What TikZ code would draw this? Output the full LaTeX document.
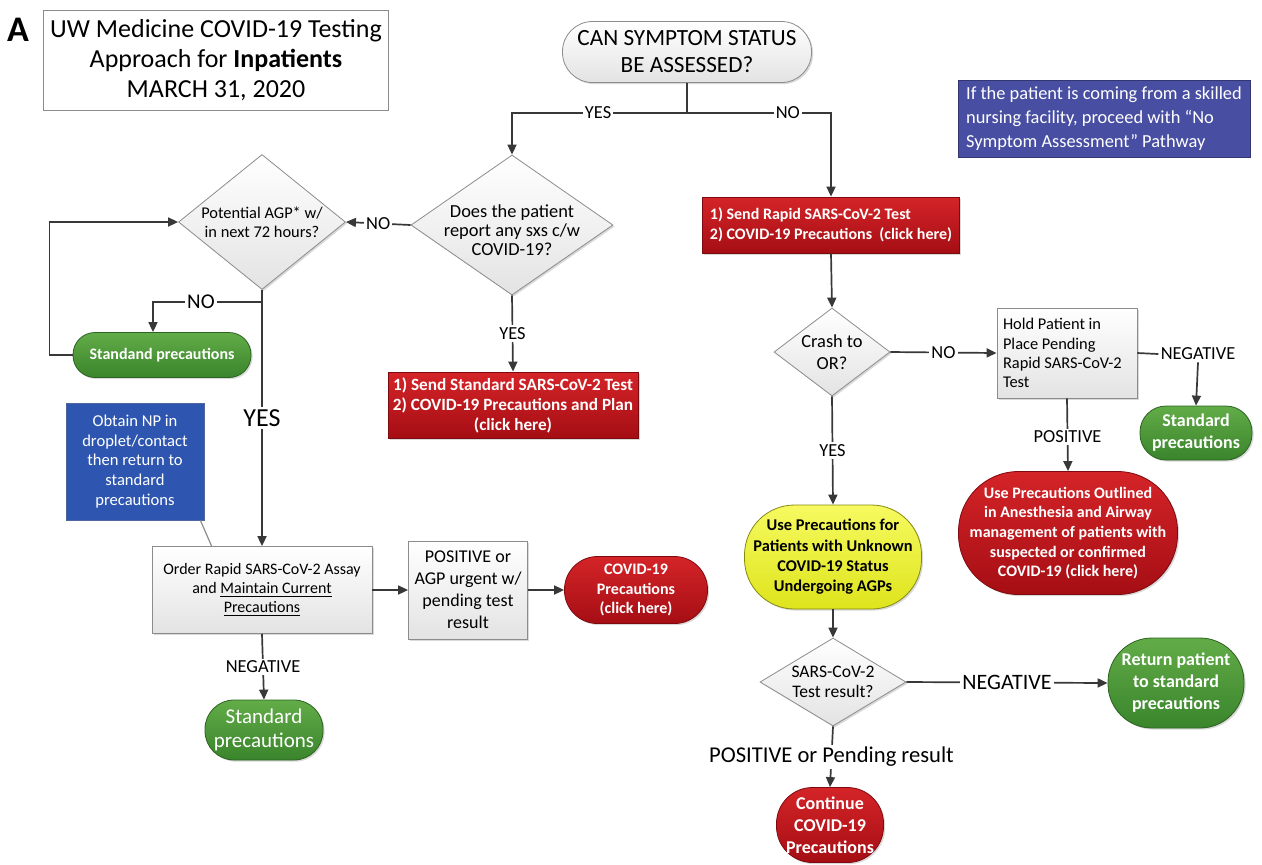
\documentclass[tikz,border=0pt]{standalone}
\usepackage{fontspec}
\setmainfont{Carlito}
\usepackage{tikz}
\usetikzlibrary{positioning, arrows.meta, shapes.geometric, shadows}

\definecolor{linegray}{RGB}{56,56,56}
\definecolor{boxedge}{RGB}{140,140,140}
\definecolor{redtop}{RGB}{212,36,40}
\definecolor{redbot}{RGB}{165,14,20}
\definecolor{greentop}{RGB}{98,172,72}
\definecolor{greenbot}{RGB}{58,132,44}
\definecolor{yeltop}{RGB}{246,250,96}
\definecolor{yelbot}{RGB}{222,228,28}
\definecolor{npblue}{RGB}{46,86,176}
\definecolor{snfblue}{RGB}{72,78,162}

\tikzset{
  arr/.style={draw=linegray, line width=0.85pt, -{Triangle[length=5pt,width=4.5pt]}},
  link/.style={draw=linegray, line width=0.85pt},
  lbl/.style={fill=white, inner sep=1pt, font=\fontsize{9.2}{10}\selectfont},
  softshadow/.style={drop shadow={shadow xshift=0.8pt, shadow yshift=-0.8pt, opacity=0.3}},
  graybox/.style={draw=boxedge, top color=white, bottom color=gray!22, inner sep=2pt, align=center, softshadow},
  decision/.style={diamond, draw=boxedge, top color=white, bottom color=gray!22, inner sep=0pt, softshadow},
  redbox/.style={draw=redbot!75!black, top color=redtop, bottom color=redbot, text=white, inner sep=2pt, align=center, softshadow},
  greenpill/.style={draw=greenbot!75!black, top color=greentop, bottom color=greenbot, text=white, inner sep=2pt, align=center, softshadow},
  yellowpill/.style={draw=yelbot!60!black, top color=yeltop, bottom color=yelbot, inner sep=2pt, align=center, softshadow},
  small/.style={font=\fontsize{8.2}{9.6}\selectfont},
  smallbf/.style={font=\fontsize{8}{9.8}\selectfont\bfseries}
}

\begin{document}
\begin{tikzpicture}[x=0.5pt, y=-0.5pt]
 \useasboundingbox (0,0) rectangle (1262,864);

 % title and notes
 \node[font=\fontsize{18}{18}\selectfont\bfseries] (panel) at (18,30) {A};
 \node[draw=boxedge, minimum width=172pt, minimum height=50pt, align=center, font=\fontsize{13}{15}\selectfont] (title) at (216,60) {UW Medicine COVID-19 Testing\\Approach for \textbf{Inpatients}\\MARCH 31, 2020};
 \node[draw=snfblue!70!black, fill=snfblue, text=white, align=left, minimum width=146pt, minimum height=38.5pt, font=\fontsize{9.2}{12}\selectfont] (snf) at (1104,118.5) {If the patient is coming from a skilled\\nursing facility, proceed with “No\\Symptom Assessment” Pathway};
 \node[draw=npblue!60!gray, fill=npblue, text=white, align=center, minimum width=69pt, minimum height=58.5pt, font=\fontsize{8.3}{9.8}\selectfont] (npnote) at (135,461.5) {Obtain NP in\\droplet/contact\\then return to\\standard\\precautions};

 % start
 \node[graybox, rounded corners=15pt, minimum width=124.5pt, minimum height=30.5pt, font=\fontsize{11.6}{13.5}\selectfont] (start) at (687,52) {CAN SYMPTOM STATUS\\BE ASSESSED?};
 \coordinate (split) at (687,113);

 % left branch
 \node[decision, minimum width=101pt, minimum height=70pt] (does) at (512,225) {};
 \node[align=center, font=\fontsize{9.2}{9.6}\selectfont] (does-q) at (512,230) {Does the patient\\report any sxs c/w\\COVID-19?};
 \node[decision, minimum width=83.5pt, minimum height=67.5pt] (agp) at (262,222) {};
 \node[align=center, small] (agp-q) at (262,222) {Potential AGP* w/\\in next 72 hours?};
 \node[greenpill, rounded corners=11pt, minimum width=89pt, minimum height=22.5pt, smallbf] (std1) at (162,355) {Standand precautions};
 \coordinate (agpsplit) at (262,302);
 \node[redbox, minimum width=125pt, minimum height=33pt, font=\fontsize{8.6}{10}\selectfont\bfseries] (redstd) at (513,405) {1) Send Standard SARS-CoV-2 Test\\2) COVID-19 Precautions and Plan\\(click here)};
 \node[graybox, minimum width=110pt, minimum height=43.5pt, font=\fontsize{8}{9.4}\selectfont] (order) at (262,590) {Order Rapid SARS-CoV-2 Assay\\and \underline{Maintain Current}\\\underline{Precautions}};
 \node[graybox, minimum width=59.5pt, minimum height=49pt, font=\fontsize{9}{11}\selectfont] (posbox) at (468,590) {POSITIVE or\\AGP urgent w/\\pending test\\result};
 \node[redbox, rounded corners=16.5pt, minimum width=71.5pt, minimum height=33.5pt, smallbf] (covid1) at (636,590) {COVID-19\\Precautions\\(click here)};
 \node[greenpill, rounded corners=14.5pt, minimum width=59pt, minimum height=30pt, font=\fontsize{10.5}{12}\selectfont] (std2) at (264,730) {Standard\\precautions};

 % right branch
 \node[redbox, align=left, minimum width=128.5pt, minimum height=28pt, smallbf] (rapid) at (831,225) {1) Send Rapid SARS-CoV-2 Test\\2) COVID-19 Precautions~ (click here)};
 \node[decision, minimum width=58pt, minimum height=44pt] (crash) at (832,352) {};
 \node[align=center, font=\fontsize{9.2}{11}\selectfont] (crash-q) at (832,352) {Crash to\\OR?};
 \node[graybox, align=flush left, text width=64pt, minimum width=70pt, minimum height=45pt, small] (hold) at (1067,353) {Hold Patient in\\Place Pending\\Rapid SARS-CoV-2\\Test};
 \node[greenpill, rounded corners=13pt, minimum width=56pt, minimum height=27pt, font=\fontsize{9}{11}\selectfont\bfseries] (std3) at (1196,433) {Standard\\precautions};
 \node[redbox, rounded corners=30pt, minimum width=109.5pt, minimum height=61.5pt, smallbf] (anes) at (1068,533) {Use Precautions Outlined\\in Anesthesia and Airway\\management of patients with\\suspected or confirmed\\COVID-19 (click here)};
 \node[yellowpill, rounded corners=25pt, minimum width=88.5pt, minimum height=52pt, font=\fontsize{8.2}{10.2}\selectfont\bfseries] (unknown) at (833,557) {Use Precautions for\\Patients with Unknown\\COVID-19 Status\\Undergoing AGPs};
 \node[decision, minimum width=73pt, minimum height=44pt] (test) at (833,682) {};
 \node[align=center, font=\fontsize{8.8}{10}\selectfont] (test-q) at (833,682) {SARS-CoV-2\\Test result?};
 \node[greenpill, rounded corners=22pt, minimum width=68pt, minimum height=45pt, font=\fontsize{9}{11}\selectfont\bfseries] (ret) at (1176,683) {Return patient\\to standard\\precautions};
 \node[redbox, rounded corners=18pt, minimum width=53.5pt, minimum height=37.5pt, font=\fontsize{9}{11}\selectfont\bfseries] (cont) at (830,825) {Continue\\COVID-19\\Precautions};

 % connectors
 \draw[link] (start.south) -- (split);
 \draw[arr] (split) -| node[lbl, pos=0.254] (yes0) {YES} (does.north);
 \draw[arr] (split) -| node[lbl, pos=0.35] (no0) {NO} (rapid.north);
 \draw[arr] (does.west) -- node[lbl] (no1) {NO} (agp.east);
 \draw[arr] (does.south) -- node[lbl] (yes1) {YES} (redstd.north);
 \draw[arr] (agp.south) -- node[lbl, font=\fontsize{13}{14}\selectfont] (yes2) {YES} (order.north);
 \draw[arr] (agpsplit) -| node[lbl, pos=0.28, font=\fontsize{10.5}{12}\selectfont] (no2) {NO} ([xshift=-4.5pt]std1.north);
 \draw[arr] (std1.west) -- ++(-23,0) |- (agp.west);
 \draw[draw=boxedge, line width=0.6pt] ([xshift=-2pt]npnote.south east) -- ([xshift=30pt]order.north west);
 \draw[arr] (order.south) -- node[lbl] (neg0) {NEGATIVE} (std2.north);
 \draw[arr] (order.east) -- (posbox.west);
 \draw[arr] (posbox.east) -- (covid1.west);

 \draw[arr] (rapid.south) -- (crash.north);
 \draw[arr] (crash.east) -- node[lbl] (no3) {NO} (hold.west);
 \node[lbl] (neg1) at (1198,354) {NEGATIVE};
 \draw[link] (hold.east) -- (neg1.west);
 \draw[arr] (neg1.south) -- (std3.north);
 \draw[arr] (hold.south) -- node[lbl, pos=0.53] (pos1) {POSITIVE} (anes.north);
 \draw[arr] (crash.south) -- node[lbl] (yes3) {YES} (unknown.north);
 \draw[arr] (unknown.south) -- (test.north);
 \draw[arr] (test.east) -- node[lbl, font=\fontsize{11}{12}\selectfont] (neg2) {NEGATIVE} (ret.west);
 \draw[arr] (test.south) -- node[lbl, font=\fontsize{11.3}{12}\selectfont] (pos2) {POSITIVE or Pending result} (cont.north);
\end{tikzpicture}
\end{document}
